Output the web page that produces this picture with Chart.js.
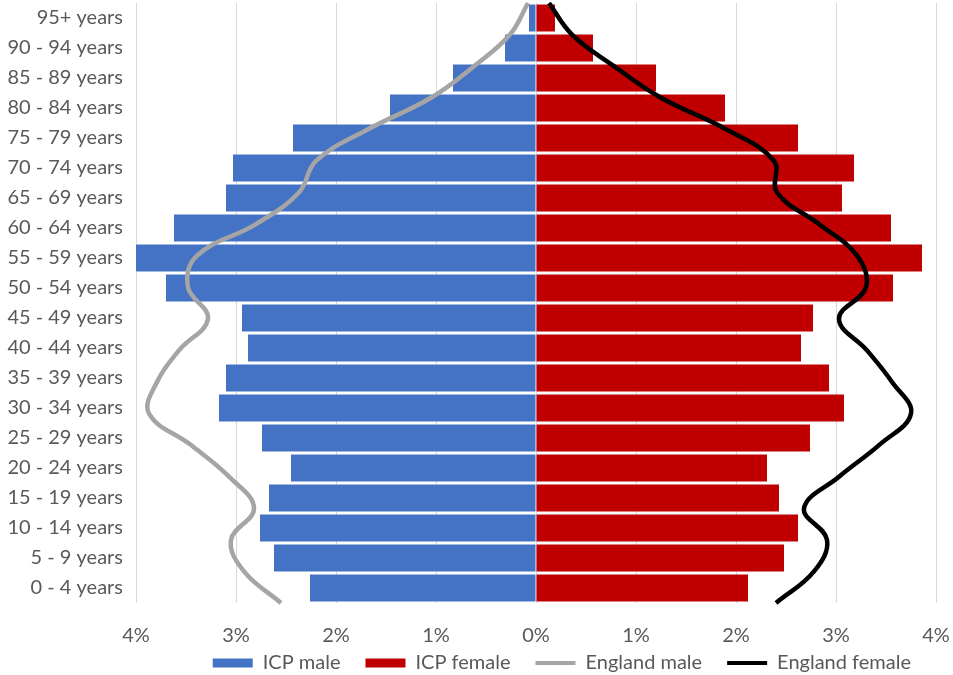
<!DOCTYPE html>
<html>
<head>
<meta charset="utf-8">
<title>Population pyramid</title>
<script src="https://cdn.jsdelivr.net/npm/chart.js@4.4.1/dist/chart.umd.min.js"></script>
<style>
    html, body { margin: 0; padding: 0; background: #ffffff; }
    #wrap { position: relative; width: 953px; height: 675px; }
</style>
</head>
<body>
<div id="wrap"><canvas id="pyramid"></canvas></div>
<script>
(function() {
    'use strict';

    // age bands, oldest first (top of the pyramid)
    var ageBands = [
        '95+ years', '90 - 94 years', '85 - 89 years', '80 - 84 years',
        '75 - 79 years', '70 - 74 years', '65 - 69 years', '60 - 64 years',
        '55 - 59 years', '50 - 54 years', '45 - 49 years', '40 - 44 years',
        '35 - 39 years', '30 - 34 years', '25 - 29 years', '20 - 24 years',
        '15 - 19 years', '10 - 14 years', '5 - 9 years', '0 - 4 years'
    ];

    // share of total population, %
    var icpMale = [0.07, 0.31, 0.83, 1.46, 2.43, 3.03, 3.10, 3.62, 4.00, 3.70,
                   2.94, 2.88, 3.10, 3.17, 2.74, 2.45, 2.67, 2.76, 2.62, 2.26];
    var icpFemale = [0.19, 0.57, 1.20, 1.89, 2.62, 3.18, 3.06, 3.55, 3.86, 3.57,
                     2.77, 2.65, 2.93, 3.08, 2.74, 2.31, 2.43, 2.62, 2.48, 2.12];
    var englandMale = [0.08, 0.26, 0.62, 1.05, 1.68, 2.20, 2.37, 2.80, 3.39, 3.48,
                       3.28, 3.57, 3.79, 3.87, 3.45, 3.07, 2.82, 3.05, 2.92, 2.55];
    var englandFemale = [0.13, 0.36, 0.78, 1.25, 1.90, 2.38, 2.41, 2.83, 3.21, 3.30,
                         3.03, 3.31, 3.56, 3.75, 3.43, 3.03, 2.68, 2.91, 2.78, 2.40];

    // x axis runs -4% .. 4%, one gridline per percent
    var xMin = -4;
    var xMax = 4;
    var xStep = 1;

    var textColor = '#595959';
    var font = { family: 'Lato', size: 20 };

    function toLeft(arr) {
        return arr.map(function(v) { return -v; });
    }

    var datasets = [
        {
            type: 'bar', label: 'ICP male', data: toLeft(icpMale),
            backgroundColor: '#4472C4', grouped: false, order: 2,
            barPercentage: 0.9, categoryPercentage: 1
        },
        {
            type: 'bar', label: 'ICP female', data: icpFemale,
            backgroundColor: '#C00000', grouped: false, order: 2,
            barPercentage: 0.9, categoryPercentage: 1
        },
        {
            type: 'line', label: 'England male', data: toLeft(englandMale),
            yAxisID: 'yLine', order: 1,
            borderColor: '#A5A5A5', backgroundColor: '#A5A5A5',
            borderWidth: 4.5, pointRadius: 0, tension: 0.4, fill: false
        },
        {
            type: 'line', label: 'England female', data: englandFemale,
            yAxisID: 'yLine', order: 1,
            borderColor: '#000000', backgroundColor: '#000000',
            borderWidth: 4.5, pointRadius: 0, tension: 0.4, fill: false
        }
    ];

    Chart.defaults.font.family = font.family;
    Chart.defaults.color = textColor;

    var ctx = document.getElementById('pyramid').getContext('2d');
    ctx.canvas.width = 953;
    ctx.canvas.height = 675;

    new Chart(ctx, {
        type: 'bar',
        data: { labels: ageBands, datasets: datasets },
        options: {
            indexAxis: 'y',
            responsive: false,
            animation: false,
            layout: { padding: { top: 3, right: 17, bottom: -8, left: 0 } },
            scales: {
                x: {
                    type: 'linear',
                    min: xMin,
                    max: xMax,
                    afterFit: function(scale) {
                        scale.height = 25;
                        scale.paddingLeft = 0;
                        scale.paddingRight = 0;
                        // tick labels sit below the axis box, next to the legend; don't clip them
                        scale._computeLabelArea = function() { return null; };
                    },
                    ticks: {
                        stepSize: xStep,
                        padding: 21,
                        font: font,
                        color: textColor,
                        maxRotation: 0,
                        autoSkip: false,
                        callback: function(v) { return Math.abs(v) + '%'; }
                    },
                    grid: { color: '#D9D9D9', lineWidth: 1, drawTicks: false },
                    border: { display: false }
                },
                y: {
                    type: 'category',
                    offset: true,
                    afterFit: function(scale) {
                        scale.width = 136;
                        scale.paddingTop = 0;
                        scale.paddingBottom = 0;
                    },
                    ticks: { padding: 13, font: font, color: textColor, autoSkip: false },
                    grid: { display: false, drawTicks: false },
                    border: { display: false }
                },
                // edge-to-edge axis so the England curves span the whole plot height
                yLine: {
                    type: 'category',
                    position: 'left',
                    offset: false,
                    display: false,
                    labels: ageBands
                }
            },
            plugins: {
                tooltip: { enabled: false },
                legend: {
                    position: 'bottom',
                    align: 'end',
                    labels: {
                        font: font,
                        color: textColor,
                        padding: 25,
                        boxWidth: 40,
                        boxHeight: 9,
                        usePointStyle: true,
                        pointStyleWidth: 40,
                        generateLabels: function(chart) {
                            return chart.data.datasets.map(function(ds, i) {
                                var isLine = ds.type === 'line';
                                return {
                                    text: ds.label,
                                    datasetIndex: i,
                                    fillStyle: isLine ? ds.borderColor : ds.backgroundColor,
                                    strokeStyle: isLine ? ds.borderColor : ds.backgroundColor,
                                    lineWidth: isLine ? 4 : 0,
                                    pointStyle: isLine ? 'line' : 'rect',
                                    fontColor: textColor,
                                    hidden: false
                                };
                            });
                        }
                    }
                }
            }
        }
    });
})();
</script>
</body>
</html>
